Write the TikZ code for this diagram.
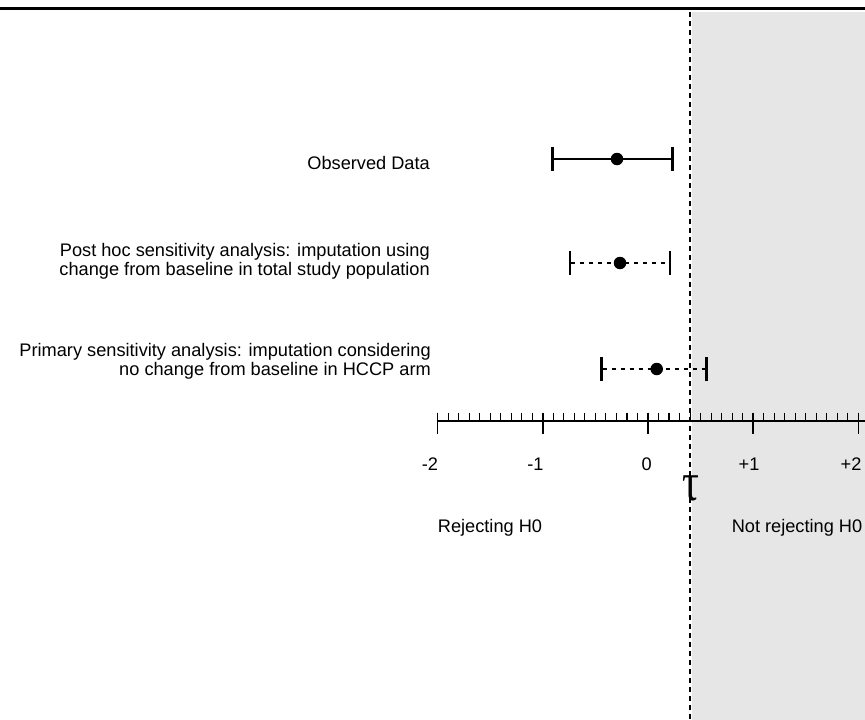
\documentclass[tikz,border=0pt]{standalone}
\usepackage{graphicx}
\usepackage{fontspec}
\setmainfont{Liberation Sans}
\newfontfamily\taufont{Liberation Serif}
\definecolor{greyzone}{HTML}{E6E6E6}
\begin{document}
\begin{tikzpicture}[x=1pt,y=-1pt,
  lbl/.style={font=\fontsize{18.2}{18.6}\selectfont, inner sep=0pt, align=right},
  num/.style={font=\fontsize{18.2}{18.6}\selectfont, inner sep=0pt, anchor=base},
  bar/.style={line width=2.3pt},
  dbar/.style={line width=2.3pt, dash pattern=on 4pt off 5pt},
  endbar/.style={line width=2.5pt},
  dot/.style={circle, fill=black, inner sep=0pt, minimum size=12.5pt},
  mintick/.style={line width=1.1pt},
  majtick/.style={line width=1.6pt}]
\useasboundingbox (0,0) rectangle (865,720);
% shaded region
\fill[greyzone] (692,12) rectangle (865,720);
% top rule
\draw[line width=2.2pt] (0,8.5) -- (865,8.5);
% threshold line
\coordinate (tauTop) at (690,12);
\coordinate (tauBot) at (690,720);
\draw[line width=1.4pt, dash pattern=on 5pt off 4pt] (tauTop) -- (tauBot);
% axis
\coordinate (axL) at (436.7,421);
\coordinate (axR) at (865,421);
\draw[line width=1.5pt] (axL) -- (axR);
\foreach \i in {-20,...,20} {
  \draw[mintick] ({648+10.52*\i},412.5) -- ({648+10.52*\i},421);
}
\foreach \v in {-2,-1,0,1,2} {
  \draw[majtick] ({648+105.2*\v},412.5) -- ({648+105.2*\v},434);
}
\node[num] (nm2) at (430,470) {-2};
\node[num] (nm1) at (535.5,470) {-1};
\node[num] (n0) at (646.7,470) {0};
\node[num] (np1) at (749,470) {+1};
\node[num] (np2) at (851,470) {+2};
\node[inner sep=0pt] (tau) at (691,488) {\scalebox{1.05}[1.35]{\taufont\fontsize{40}{42}\selectfont τ}};
\node[num] (rej) at (490,532) {Rejecting H0};
\node[num] (nrej) at (797,532) {Not rejecting H0};
% labels
\node[lbl, anchor=base east] (obsT) at (430,169) {Observed Data};
\node[lbl, anchor=base east] (phT) at (430,275.5) {Post hoc sensitivity analysis: imputation using\\change from baseline in total study population};
\node[lbl, anchor=base east] (prT) at (431,375) {Primary sensitivity analysis: imputation considering\\no change from baseline in HCCP arm};
% observed
\coordinate (obsL) at (552.7,159);
\coordinate (obsR) at (672.7,159);
\draw[bar] (obsL) -- (obsR);
\draw[endbar] ([yshift=-12pt]obsL) -- ([yshift=12pt]obsL);
\draw[endbar] ([yshift=-12pt]obsR) -- ([yshift=12pt]obsR);
\node[dot] (obsD) at (617,159) {};
% post hoc
\coordinate (phL) at (570,263);
\coordinate (phR) at (670,263);
\draw[dbar, dash phase=-10pt] (phL) -- (phR);
\draw[endbar] ([yshift=-12pt]phL) -- ([yshift=12pt]phL);
\draw[endbar] ([yshift=-12pt]phR) -- ([yshift=12pt]phR);
\node[dot] (phD) at (620,263) {};
% primary
\coordinate (prL) at (601.7,369);
\coordinate (prR) at (706.7,369);
\draw[dbar, dash phase=-10pt] (prL) -- (prR);
\draw[endbar] ([yshift=-12pt]prL) -- ([yshift=12pt]prL);
\draw[endbar] ([yshift=-12pt]prR) -- ([yshift=12pt]prR);
\node[dot] (prD) at (656.7,369) {};
\end{tikzpicture}
\end{document}
